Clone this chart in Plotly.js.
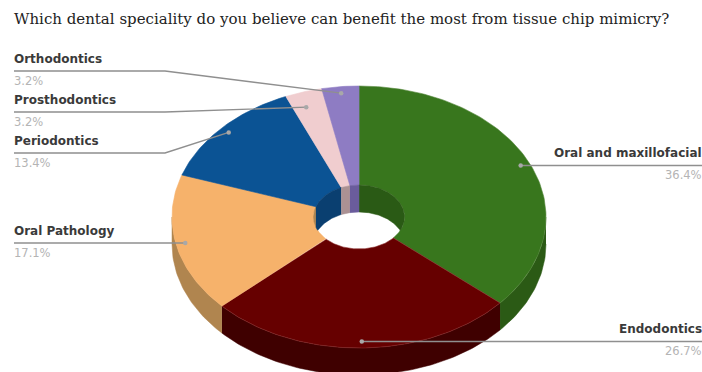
<!DOCTYPE html>
<html>
<head>
<meta charset="utf-8">
<script src="https://cdn.plot.ly/plotly-3.0.1.min.js"></script>
<style>html,body{margin:0;padding:0;background:#fff}#chart{width:702px;height:372px}</style>
</head>
<body>
<div id="chart"></div>
<script>
// Survey answers, clockwise from twelve o'clock
const specialities = ['Oral and maxillofacial', 'Endodontics', 'Oral Pathology', 'Periodontics', 'Prosthodontics', 'Orthodontics'];
const shares = [36.4, 26.7, 17.1, 13.4, 3.2, 3.2];

// Face, outer wall, inner wall and rim colours per slice
const faceColors = ['#38761d', '#660000', '#f6b26b', '#0b5394', '#f0cdcf', '#8e7cc3'];
const outerWallColors = ['#2b5a15', '#3f0000', '#b0854f', '#083c6b', '#ab9193', '#65588c'];
const innerWallColors = ['#2a5a15', '#3f0000', '#b0854f', '#0a3f70', '#ab9193', '#6a5c9c'];
const rimColors = ['#56883c', '#8a2a2a', '#f6b26b', '#0b5394', '#f0cdcf', '#8e7cc3'];

// Projected donut geometry, in plot units
const cx = 359, cy = 217, rx = 187, ry = 131, holeRx = 45.5, holeRy = 32, depth = 27;

// Where each leader line runs: label end, knee (null when straight), and label placement
const leaders = [
  {side: 'right', y: 165, knee: null},
  {side: 'right', y: 341, knee: null},
  {side: 'left', y: 242, knee: null},
  {side: 'left', y: 153, knee: 165},
  {side: 'left', y: 112, knee: 165, anchorDy: 9},
  {side: 'left', y: 71, knee: 165}
];
const anchorRadius = 0.95;

const total = shares.reduce((a, b) => a + b, 0);
let running = 0;
const slices = shares.map(v => {
  const from = running / total * 2 * Math.PI;
  running += v;
  return {from, to: running / total * 2 * Math.PI};
});

// Angle runs clockwise from the top of the ellipse
const px = (a, k) => cx + rx * k * Math.sin(a);
const py = (a, k) => cy - ry * k * Math.cos(a);
const steps = (a, b) => {
  const n = Math.max(2, Math.ceil((b - a) / 0.02));
  return Array.from({length: n + 1}, (_, i) => a + (b - a) * i / n);
};

function polygon(xs, ys, fill, edge, width) {
  return {
    type: 'scatter', mode: 'lines', x: xs, y: ys, fill: 'toself', fillcolor: fill,
    line: {color: edge || fill, width: width === undefined ? 0.5 : width},
    hoverinfo: 'skip', showlegend: false
  };
}

const traces = [];

// Outer wall: only the part of each slice facing the viewer
slices.forEach((s, i) => {
  const a = Math.max(s.from, Math.PI / 2), b = Math.min(s.to, 3 * Math.PI / 2);
  if (b <= a) return;
  const arc = steps(a, b);
  const xs = arc.map(t => px(t, 1)).concat(arc.slice().reverse().map(t => px(t, 1)));
  const ys = arc.map(t => py(t, 1)).concat(arc.slice().reverse().map(t => py(t, 1) + depth));
  traces.push(polygon(xs, ys, outerWallColors[i]));
});

// Top face of every slice as a ring sector
slices.forEach((s, i) => {
  const arc = steps(s.from, s.to);
  const back = arc.slice().reverse();
  const xs = arc.map(t => px(t, 1)).concat(back.map(t => cx + holeRx * Math.sin(t)), [px(s.from, 1)]);
  const ys = arc.map(t => py(t, 1)).concat(back.map(t => cy - holeRy * Math.cos(t)), [py(s.from, 1)]);
  traces.push(polygon(xs, ys, faceColors[i], rimColors[i], 0.6));
});

// Inner wall seen through the hole, cut off by the near lip of the opening
function innerWall(i, a, b) {
  if (b <= a) return;
  const arc = steps(a, b);
  const back = arc.slice().reverse();
  const xs = arc.map(t => cx + holeRx * Math.sin(t)).concat(back.map(t => cx + holeRx * Math.sin(t)));
  const ys = arc.map(t => cy - holeRy * Math.cos(t)).concat(
    back.map(t => Math.min(cy - holeRy * Math.cos(t) + depth, cy + holeRy * Math.cos(t))));
  traces.push(polygon(xs, ys, innerWallColors[i]));
}
slices.forEach((s, i) => {
  innerWall(i, s.from, Math.min(s.to, Math.PI / 2));
  innerWall(i, Math.max(s.from, 3 * Math.PI / 2), s.to);
});

// Leader lines with their end dots, plus labels
const annotations = [];
const labelFont = {family: 'DejaVu Sans', size: 12, color: '#3a3a3a', weight: 600};
const shareFont = {family: 'DejaVu Sans', size: 11.5, color: '#b4b4b4'};
slices.forEach((s, i) => {
  const mid = (s.from + s.to) / 2;
  const L = leaders[i];
  const ax = px(mid, anchorRadius), ay = py(mid, anchorRadius) + (L.anchorDy || 0);
  const right = L.side === 'right';
  const lineY = L.knee ? L.y : ay;
  const xs = right ? [ax, 702] : (L.knee ? [14, L.knee, ax] : [14, ax]);
  const ys = L.knee ? [L.y, L.y, ay] : [ay, ay];
  traces.push({
    type: 'scatter', mode: 'lines', x: xs, y: ys,
    line: {color: '#8f8f8f', width: 1.4}, hoverinfo: 'skip', showlegend: false
  });
  traces.push({
    type: 'scatter', mode: 'markers', x: [ax], y: [ay],
    marker: {color: '#a8a8a8', size: 4.5}, hoverinfo: 'skip', showlegend: false
  });
  const tx = right ? 702 : 14;
  const xanchor = right ? 'right' : 'left';
  annotations.push({
    x: tx, y: lineY - 5, xref: 'x', yref: 'y', text: specialities[i],
    xanchor, yanchor: 'bottom', showarrow: false, font: labelFont, borderpad: 0, borderwidth: 0
  });
  annotations.push({
    x: tx, y: lineY + 3, xref: 'x', yref: 'y', text: shares[i].toFixed(1) + '%',
    xanchor, yanchor: 'top', showarrow: false, font: shareFont, borderpad: 0, borderwidth: 0
  });
});

Plotly.newPlot('chart', traces, {
  width: 702, height: 372,
  margin: {l: 0, r: 0, t: 0, b: 0},
  paper_bgcolor: '#ffffff', plot_bgcolor: '#ffffff',
  showlegend: false,
  title: {
    text: 'Which dental speciality do you believe can benefit the most from tissue chip mimicry?',
    font: {family: 'DejaVu Serif', size: 15, color: '#222222'},
    x: 14 / 702, xanchor: 'left', y: 1 - 19 / 372, yanchor: 'middle'
  },
  xaxis: {range: [0, 702], visible: false, fixedrange: true},
  yaxis: {range: [372, 0], visible: false, fixedrange: true},
  annotations
}, {displayModeBar: false, staticPlot: true});
</script>
</body>
</html>
